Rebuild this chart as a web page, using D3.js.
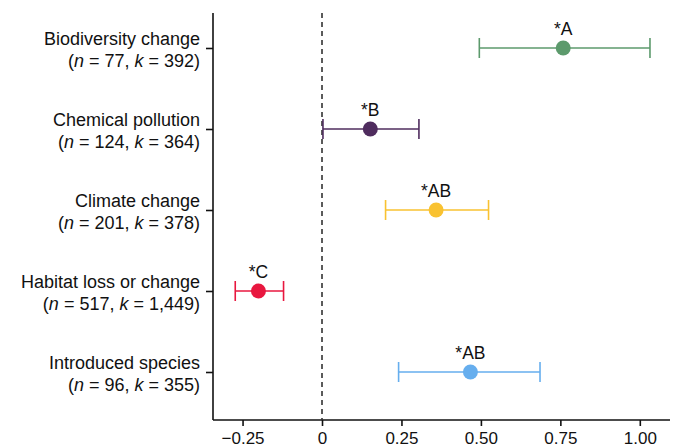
<!DOCTYPE html>
<html lang="en">
<head>
  <meta charset="utf-8">
  <script src="https://d3js.org/d3.v7.min.js"></script>
  <style>
    body { margin: 0; background: #fff; font-family: "Liberation Sans", Arial, sans-serif; }
    .axis path, .axis line { stroke: #111; stroke-width: 1.6; }
    .axis text { font-size: 17px; fill: #111; font-family: "Liberation Sans", Arial, sans-serif; }
  </style>
</head>
<body>
  <svg id="chart" width="676" height="448"></svg>
  <script>
    const drivers = ["Biodiversity change", "Chemical pollution", "Climate change", "Habitat loss or change", "Introduced species"];
    const nStudies = ["77", "124", "201", "517", "96"];
    const kEffects = ["392", "364", "378", "1,449", "355"];
    const estimates = [0.759, 0.152, 0.359, -0.200, 0.467];
    const lower = [0.495, 0.003, 0.200, -0.273, 0.241];
    const upper = [1.032, 0.305, 0.524, -0.121, 0.686];
    const groups = ["*A", "*B", "*AB", "*C", "*AB"];
    const colors = ["#5c9a6c", "#4f2c5e", "#f9c231", "#e8173f", "#66aeee"];
    const xTicks = [-0.25, 0, 0.25, 0.5, 0.75, 1.0];

    const margin = {top: 13, right: 6, bottom: 28, left: 213};
    const W = 676, H = 448;
    const width = W - margin.left - margin.right,
          height = H - margin.top - margin.bottom;

    const svg = d3.select("#chart")
      .append("g")
      .attr("transform", `translate(${margin.left},${margin.top})`);

    const x = d3.scaleLinear().domain([-0.343, 1.095]).range([0, width]);
    const y = d3.scalePoint().domain(drivers).range([35, height - 48]);

    // y axis, labels drawn separately on two lines
    const yAxis = svg.append("g").attr("class", "axis")
      .call(d3.axisLeft(y).tickSize(7).tickSizeOuter(0).tickFormat(""));
    yAxis.select(".domain").attr("d", `M0,0V${height}`);

    drivers.forEach((d, i) => {
      const t = svg.append("text")
        .attr("x", -13)
        .attr("y", y(d) - 3)
        .attr("text-anchor", "end")
        .attr("font-size", "18px")
        .attr("fill", "#111");
      t.append("tspan").attr("x", -13).text(d);
      const t2 = t.append("tspan").attr("x", -13).attr("dy", 22);
      t2.append("tspan").text("(");
      t2.append("tspan").attr("font-style", "italic").text("n");
      t2.append("tspan").text(` = ${nStudies[i]}, `);
      t2.append("tspan").attr("font-style", "italic").text("k");
      t2.append("tspan").text(` = ${kEffects[i]})`);
    });

    // x axis
    const xAxis = svg.append("g").attr("class", "axis")
      .attr("transform", `translate(0,${height})`)
      .call(d3.axisBottom(x).tickValues(xTicks).tickSize(6).tickSizeOuter(0)
        .tickFormat(d => d === 0 ? "0" : d3.format(".2f")(d).replace("-", "\u2013")));
    xAxis.select(".domain").attr("d", `M0,0H${width}`);
    xAxis.selectAll("text").attr("dy", "0.88em");

    // zero line
    svg.append("line")
      .attr("x1", x(0)).attr("x2", x(0))
      .attr("y1", 0).attr("y2", height)
      .attr("stroke", "#333").attr("stroke-width", 1.6)
      .attr("stroke-dasharray", "5,4");

    const capH = 10;
    drivers.forEach((d, i) => {
      const g = svg.append("g").attr("stroke", colors[i]).attr("stroke-width", 1.6);
      g.append("line").attr("x1", x(lower[i])).attr("x2", x(upper[i]))
        .attr("y1", y(d)).attr("y2", y(d));
      [lower[i], upper[i]].forEach(v => {
        g.append("line").attr("x1", x(v)).attr("x2", x(v))
          .attr("y1", y(d) - capH).attr("y2", y(d) + capH);
      });
      svg.append("circle")
        .attr("cx", x(estimates[i])).attr("cy", y(d)).attr("r", 7.5)
        .attr("fill", colors[i]);
      svg.append("text")
        .attr("x", x(estimates[i])).attr("y", y(d) - 13)
        .attr("text-anchor", "middle")
        .attr("font-size", "17.5px").attr("fill", "#111")
        .text(groups[i]);
    });
  </script>
</body>
</html>
